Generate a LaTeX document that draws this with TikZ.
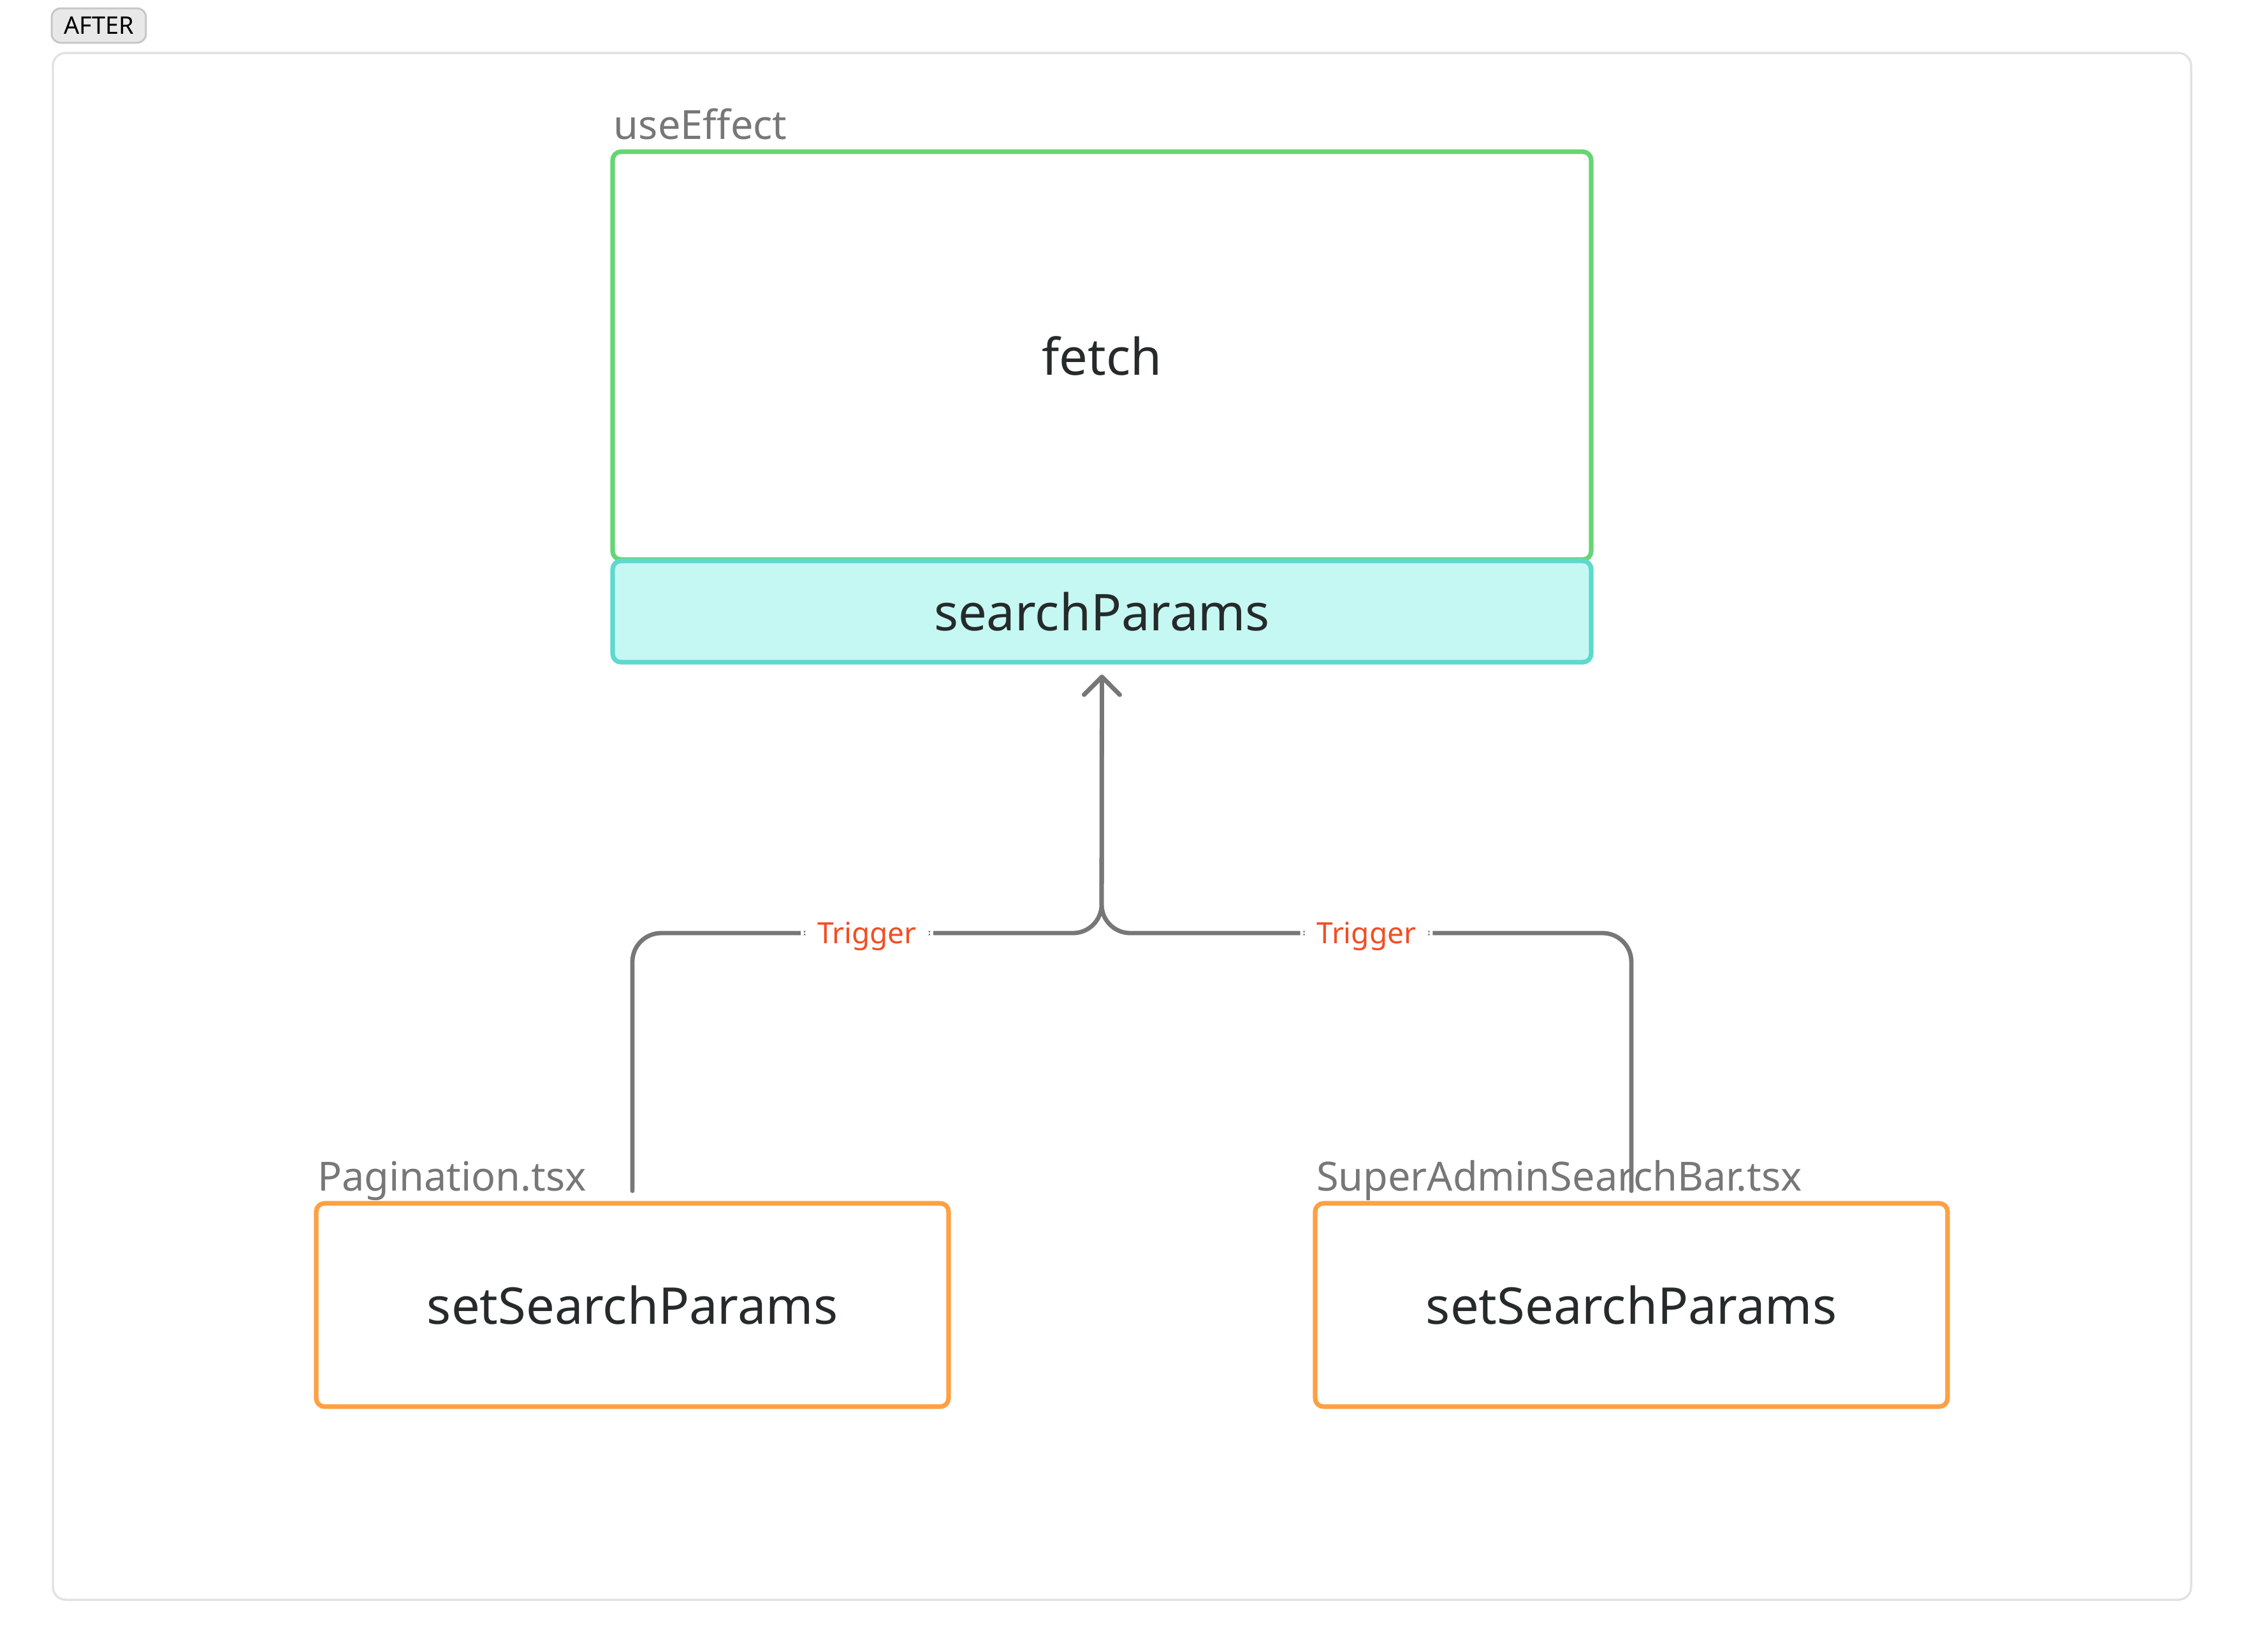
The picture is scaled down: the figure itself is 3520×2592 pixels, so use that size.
\documentclass[tikz,border=0pt]{standalone}
\usepackage{fontspec}
\setmainfont{Noto Sans}
\usetikzlibrary{arrows.meta,positioning}
\definecolor{hookgreen}{HTML}{66D575}
\definecolor{paramline}{HTML}{5DD9CE}
\definecolor{paramfill}{HTML}{C5F8F3}
\definecolor{setorange}{HTML}{FFA043}
\definecolor{linkgray}{HTML}{777777}
\definecolor{trigred}{HTML}{F24E23}
\definecolor{framegray}{HTML}{E2E2E2}
\definecolor{inktext}{HTML}{262A2A}
\tikzset{
  box/.style={draw, line width=0.72pt, rounded corners=1.3pt, inner sep=0pt,
    text=inktext, font=\fontsize{7.95}{9.5}\selectfont},
  caption/.style={anchor=base west, inner sep=0pt, text=linkgray,
    font=\fontsize{6.3}{7}\selectfont},
  link/.style={draw=linkgray, line width=0.68pt, line cap=round, rounded corners=4.5pt,
    -{Straight Barb[round,length=2.8pt,width=5.6pt]}},
  trig/.style={fill=white, text=trigred, text depth=0pt, inner xsep=2.6pt, inner ysep=0.6pt,
    font=\fontsize{4.6}{5}\selectfont},
  badge/.style={draw=black!22, fill=black!9, line width=0.3pt, rounded corners=1.4pt,
    minimum width=14.8pt, minimum height=5.4pt, inner sep=0pt, font=\fontsize{3.8}{4}\selectfont}
}
\begin{document}
\begin{tikzpicture}[x=0.1pt,y=-0.1pt]
    \useasboundingbox (0,0) rectangle (3520,2592);
    % outer frame
    \draw[framegray, line width=0.35pt, rounded corners=2pt] (83,83) rectangle (3437,2510);
    \node[badge] (after) at (155,40) {AFTER};

    % effect and its dependency
    \node[box, draw=hookgreen, minimum width=153.5pt, minimum height=64pt] (fetch) at (1728.5,558) {fetch};
    \node[box, draw=paramline, fill=paramfill, minimum width=153.5pt, minimum height=15.9pt] (params) at (1728.5,959.5) {searchParams};
    \node[caption] (effname) at (961,218) {useEffect};

    % setters
    \node[box, draw=setorange, minimum width=99.2pt, minimum height=31.9pt] (pag) at (992,2047.5) {setSearchParams};
    \node[box, draw=setorange, minimum width=99.2pt, minimum height=31.9pt] (bar) at (2559,2047.5) {setSearchParams};
    \node[caption] (pagname) at (496,1868) {Pagination.tsx};
    \node[caption] (barname) at (2063,1868) {SuperAdminSearchBar.tsx};

    % connectors
    \coordinate (pagout) at ([yshift=1.6pt]pag.north);
    \coordinate (barout) at ([yshift=1.6pt]bar.north);
    \coordinate (join) at (1728,1464);
    \coordinate (tip) at ([yshift=-1.6pt]params.south);
    \draw[link] (pagout) |- node[pos=0.75, trig] (trigL) {Trigger} (join) -- (tip);
    \draw[link] (barout) |- node[pos=0.75, trig] (trigR) {Trigger} (join) -- (tip);
\end{tikzpicture}
\end{document}
